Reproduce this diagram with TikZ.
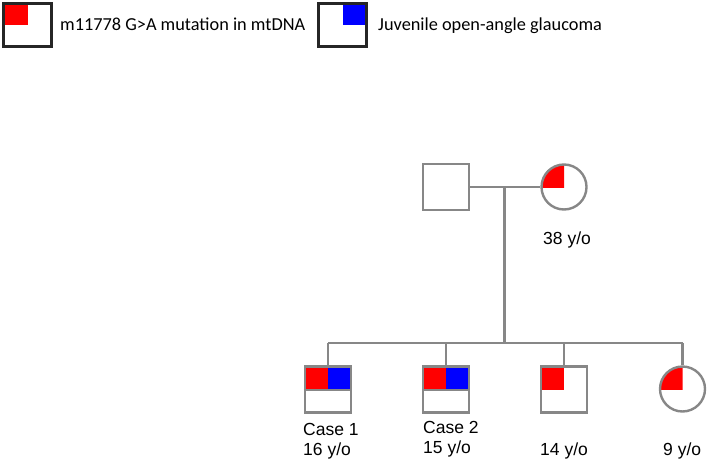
\documentclass[tikz,border=0pt]{standalone}
\usepackage{fontspec}
\setmainfont{Liberation Sans}
\newfontfamily\legendfont{Carlito}
\definecolor{pedgray}{RGB}{135,135,135}
\definecolor{mred}{RGB}{255,0,0}
\definecolor{mblue}{RGB}{0,0,255}
\begin{document}
\begin{tikzpicture}[x=1pt,y=-1pt,
  male/.style={draw=pedgray,line width=2.4pt,rectangle,minimum size=46pt,inner sep=0pt},
  female/.style={draw=pedgray,line width=2.4pt,circle,minimum size=45pt,inner sep=0pt},
  legbox/.style={draw=black!85,line width=2.6pt,rectangle,minimum width=48pt,minimum height=43pt,inner sep=0pt},
  conn/.style={draw=pedgray,line width=2.4pt},
  lbl/.style={font=\fontsize{17.5}{20}\selectfont,anchor=base west,inner sep=0pt},
  legtxt/.style={font=\legendfont\fontsize{18.3}{20}\selectfont,anchor=base west,inner sep=0pt}]
\useasboundingbox (0,0) rectangle (709,460);
% legend
\fill[mred] (5,3) rectangle (28,25);
\node[legbox] (lg1) at (27.5,25) {};
\node[legtxt] (lt1) at (60,31) {m11778 G>A mutation in mtDNA};
\fill[mblue] (343,3) rectangle (365,25);
\node[legbox] (lg2) at (342.5,25) {};
\node[legtxt] (lt2) at (378,31) {Juvenile open-angle glaucoma};
% parents
\node[male] (f) at (446,187) {};
\begin{scope}
\clip (541,164) rectangle (564,187);
\fill[mred] (564,187) circle (22.5);
\end{scope}
\node[female] (m) at (564,187) {};
\coordinate (mid) at (504.3,187);
\coordinate (sib) at (504.3,343);
\draw[conn] (f.east) -- (m.west);
\draw[conn] (mid) -- (sib);
\node[lbl] (age38) at (543,244) {38 y/o};
% children
\fill[mred] (305,367) rectangle (328,390);
\fill[mblue] (328,367) rectangle (351,390);
\node[male] (c1) at (328,389.5) {};
\draw[conn] (c1.west |- 0,390) -- (c1.east |- 0,390);
\fill[mred] (423,367) rectangle (446,390);
\fill[mblue] (446,367) rectangle (469,390);
\node[male] (c2) at (446,389.5) {};
\draw[conn] (c2.west |- 0,390) -- (c2.east |- 0,390);
\fill[mred] (541,367) rectangle (564,390);
\node[male] (c3) at (564,389.5) {};
\begin{scope}
\clip (660,366) rectangle (682.5,389);
\fill[mred] (682.5,389) circle (22.5);
\end{scope}
\node[female] (c4) at (682.5,389) {};
% sibship line
\coordinate (s1) at (c1.north |- sib);
\coordinate (s4) at (c4.north |- sib);
\draw[conn] (s1) -- (s4);
\draw[conn] (s1) -- (c1.north);
\draw[conn] (c2.north |- sib) -- (c2.north);
\draw[conn] (c3.north |- sib) -- (c3.north);
\draw[conn] (s4) -- (c4.north);
% labels
\node[lbl] (l1a) at (303,435) {Case 1};
\node[lbl] (l1b) at (303,455) {16 y/o};
\node[lbl] (l2a) at (423,433) {Case 2};
\node[lbl] (l2b) at (423,453) {15 y/o};
\node[lbl] (l3) at (540,455) {14 y/o};
\node[lbl] (l4) at (663,455) {9 y/o};
\end{tikzpicture}
\end{document}
